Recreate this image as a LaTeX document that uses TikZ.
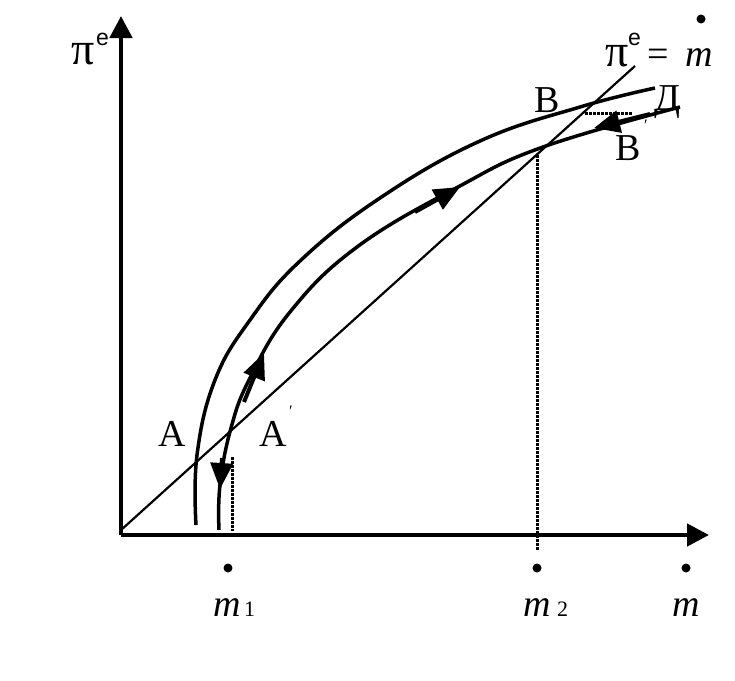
\documentclass[tikz,border=0pt]{standalone}
\usepackage{fontspec}
\setmainfont{Liberation Serif}
\newfontfamily\sansf{Liberation Sans}
\usetikzlibrary{arrows.meta}
\begin{document}
\begin{tikzpicture}[x=1pt,y=-1pt,
  lbl/.style={inner sep=0pt, anchor=base west, font=\fontsize{38}{40}\selectfont},
  pilbl/.style={inner sep=0pt, anchor=base west, font=\fontsize{46}{48}\selectfont},
  sup/.style={inner sep=0pt, anchor=base west, font=\sansf\fontsize{23}{25}\selectfont},
  sub/.style={inner sep=0pt, anchor=base west, font=\fontsize{22}{24}\selectfont},
  prm/.style={inner sep=0pt, anchor=base west, font=\fontsize{16}{18}\selectfont},
  axis/.style={line width=4.5pt, -{Triangle[length=22pt,width=22pt]}},
  crv/.style={line width=3.5pt},
  carrow/.style={line width=4pt, -{Triangle[length=26pt,width=22pt]}},
  guide/.style={line width=3pt, dash pattern=on 2.5pt off 1.5pt},
  dotm/.style={fill=black, draw=none}]
\useasboundingbox (0,0) rectangle (735,680);
% axes
\coordinate (O) at (121,535);
\coordinate (Ytop) at (121,16);
\coordinate (Xend) at (709,535);
\draw[axis] (O) -- (Ytop);
\draw[axis] (O) -- (Xend);
% diagonal
\coordinate (D0) at (121,530);
\coordinate (D1) at (635,66);
\draw[line width=2.2pt] (D0) -- (D1);
% dotted guides
\coordinate (g1a) at (232,457); \coordinate (g1b) at (232,531);
\coordinate (g2a) at (537,155); \coordinate (g2b) at (537,550);
\coordinate (g3a) at (585,113); \coordinate (g3b) at (633,113);
\draw[guide] (g1a) -- (g1b);
\draw[guide] (g2a) -- (g2b);
\draw[guide] (g3a) -- (g3b);
% outer curve
\draw[crv] plot[smooth, tension=0.7] coordinates {(196,525) (197,455) (215,380) (250,320) (300,261) (380,198) (480,141) (580,107) (655,88)};
% inner curve
\draw[crv] plot[smooth, tension=0.7] coordinates {(219,530) (220,485) (231,428) (250,378) (290,312) (357,247) (458,187) (543,147) (680,107)};
% arrows along inner curve
\coordinate (a1s) at (222,458); \coordinate (a1e) at (220,489);
\coordinate (a2s) at (244,402); \coordinate (a2e) at (264,353);
\coordinate (a3s) at (415,212); \coordinate (a3e) at (460,187);
\coordinate (a4s) at (650,114); \coordinate (a4e) at (594,128);
\draw[carrow] (a1s) -- (a1e);
\draw[carrow] (a2s) -- (a2e);
\draw[carrow] (a3s) -- (a3e);
\draw[carrow] (a4s) -- (a4e);
% labels
\node[pilbl] (piL) at (71,64) {π};
\node[sup] (eL) at (96,45) {e};
\node[pilbl] (piR) at (605,66) {π};
\node[sup] (eR) at (628,45) {e};
\node[lbl] (eq) at (647,66) {=};
\node[lbl] (mR) at (685,66) {\itshape m};
\fill[dotm] (701,19) circle (4.5pt);
\node[lbl] (A) at (158,446) {А};
\node[lbl] (A2) at (259,446) {А};
\node[prm] (A2p) at (289,416) {′};
\node[lbl] (B) at (534,112) {В};
\node[lbl] (Dd) at (654,110) {Д};
\node[lbl] (B2) at (615,160) {В};
\node[prm] (B2p) at (644,130) {′};
% bottom labels
\fill[dotm] (228,568) circle (4.5pt);
\fill[dotm] (537,568) circle (4.5pt);
\fill[dotm] (686,568) circle (4.5pt);
\node[lbl] (m1) at (213,616) {\itshape m};
\node[sub] (s1) at (244,616) {1};
\node[lbl] (m2) at (523,616) {\itshape m};
\node[sub] (s2) at (557,616) {2};
\node[lbl] (m3) at (672,616) {\itshape m};
\end{tikzpicture}
\end{document}
